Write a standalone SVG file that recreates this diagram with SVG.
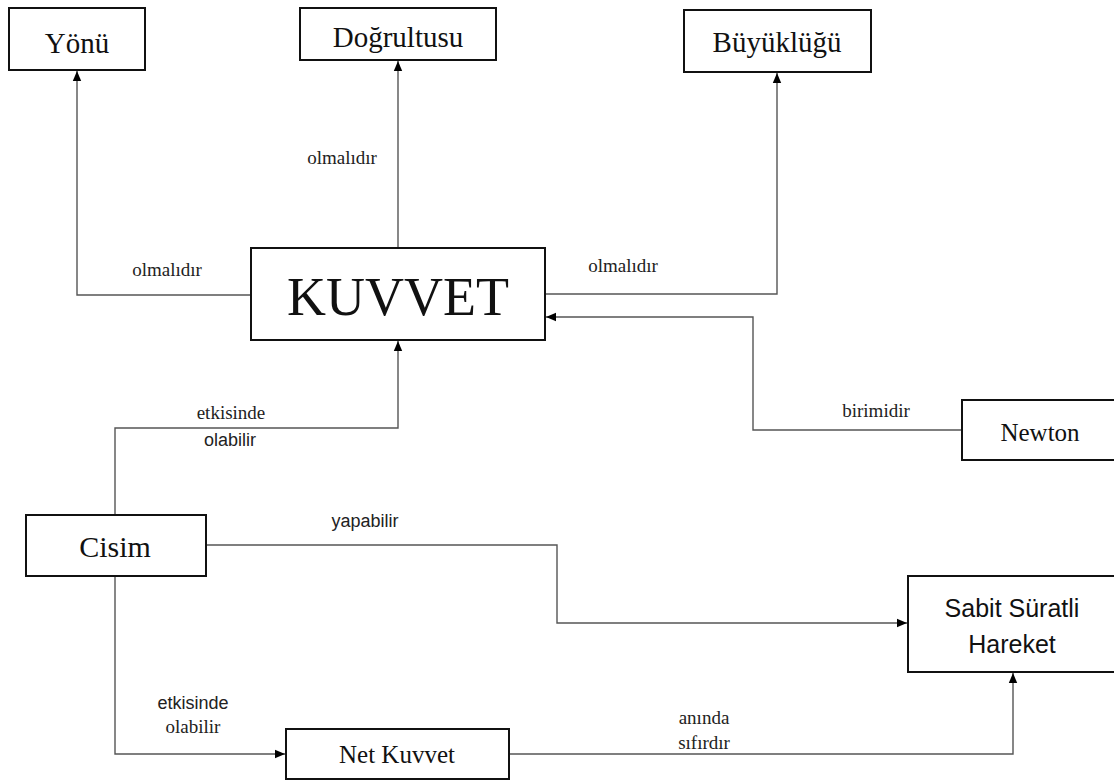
<svg xmlns="http://www.w3.org/2000/svg" width="1114" height="782" viewBox="0 0 1114 782">
<defs>
<marker id="arr" markerUnits="userSpaceOnUse" markerWidth="10" markerHeight="10" viewBox="0 0 10 10" refX="10" refY="5" orient="auto">
<path d="M0,0.8 L10,5 L0,9.2 Z" fill="#000"/>
</marker>
<style>
.box{fill:#fff;stroke:#111;stroke-width:2}
.edge{fill:none;stroke:#555;stroke-width:1.4;marker-end:url(#arr)}
.nt{font-family:"Liberation Serif",serif;fill:#111;text-anchor:middle}
.ns{font-family:"Liberation Sans",sans-serif;fill:#111;text-anchor:middle}
.ls{font-family:"Liberation Serif",serif;font-size:19px;fill:#222;text-anchor:middle}
.la{font-family:"Liberation Sans",sans-serif;font-size:18px;fill:#222;text-anchor:middle}
</style>
</defs>
<rect width="1114" height="782" fill="#fff"/>
<g id="connectors">
<path class="edge" d="M250,295 H77 V71"/>
<path class="edge" d="M398,248 V61"/>
<path class="edge" d="M545,294 H777 V73"/>
<path class="edge" d="M961,430 H753 V317 H546"/>
<path class="edge" d="M115,515 V428 H398 V341"/>
<path class="edge" d="M206,545 H557 V623 H907"/>
<path class="edge" d="M115,576 V754 H285"/>
<path class="edge" d="M509,754 H1013 V673"/>
<text class="ls" x="342" y="164">olmalıdır</text>
<text class="ls" x="167" y="276">olmalıdır</text>
<text class="ls" x="623" y="272">olmalıdır</text>
<text class="ls" x="876" y="417">birimidir</text>
<text class="ls" x="231" y="419">etkisinde</text>
<text class="la" x="230" y="446">olabilir</text>
<text class="la" x="365" y="527">yapabilir</text>
<text class="la" x="193" y="709">etkisinde</text>
<text class="ls" x="193" y="733">olabilir</text>
<text class="ls" x="704" y="724">anında</text>
<text class="ls" x="704" y="749">sıfırdır</text>
</g>
<g id="yonu"><rect class="box" x="9" y="8" width="136" height="62"/><text class="nt" x="77" y="53" font-size="29">Yönü</text></g>
<g id="dogrultusu"><rect class="box" x="300" y="8" width="196" height="52"/><text class="nt" x="398" y="47" font-size="29">Doğrultusu</text></g>
<g id="buyuklugu"><rect class="box" x="684" y="10" width="187" height="62"/><text class="nt" x="777" y="52" font-size="29">Büyüklüğü</text></g>
<g id="kuvvet"><rect class="box" x="251" y="248" width="294" height="92"/><text class="nt" x="398" y="315" font-size="54">KUVVET</text></g>
<g id="newton"><rect class="box" x="962" y="400" width="160" height="60"/><text class="nt" x="1040" y="441" font-size="25">Newton</text></g>
<g id="cisim"><rect class="box" x="26" y="515" width="180" height="61"/><text class="nt" x="115" y="557" font-size="30">Cisim</text></g>
<g id="sabit"><rect class="box" x="908" y="576" width="214" height="96"/><text class="ns" x="1012" y="617" font-size="25">Sabit Süratli</text><text class="ns" x="1012" y="653" font-size="25">Hareket</text></g>
<g id="netkuvvet"><rect class="box" x="286" y="729" width="223" height="50"/><text class="nt" x="397" y="763" font-size="25">Net Kuvvet</text></g>
</svg>
